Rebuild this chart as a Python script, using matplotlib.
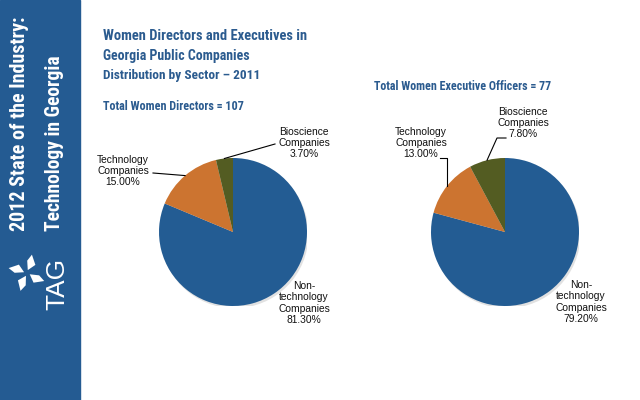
import numpy as np
import matplotlib
matplotlib.use("Agg")
import matplotlib.pyplot as plt
from matplotlib import font_manager as fm
from matplotlib.patches import Rectangle, Circle, Polygon

# --- data
sectors = ["Non-\ntechnology\nCompanies", "Technology\nCompanies", "Bioscience\nCompanies"]
directors_pct = [81.3, 15.0, 3.7]
officers_pct = [79.2, 13.0, 7.8]
colors = ["#235c93", "#cc7430", "#535c22"]

title_lines = ["Women Directors and Executives in",
               "Georgia Public Companies",
               "Distribution by Sector \u2013 2011"]
left_total = "Total Women Directors = 107"
right_total = "Total Women Executive Officers = 77"
side_lines = ["2012 State of the Industry:", "Technology in Georgia"]

W, H = 640, 400
names = {f.name for f in fm.fontManager.ttflist}
narrow = "Liberation Sans"
for cand in ["Liberation Sans Narrow", "Roboto Condensed", "Open Sans Condensed"]:
    if cand in names:
        narrow = cand
        break
body = "Liberation Sans"
blue_txt = "#2b5b8f"
side_blue = "#245b92"

fig = plt.figure(figsize=(6.4, 4), dpi=100)
fig.patch.set_facecolor("white")
renderer = fig.canvas.get_renderer()

# background / sidebar
bg = fig.add_axes([0, 0, 1, 1], zorder=0)
bg.set_xlim(0, W)
bg.set_ylim(H, 0)
bg.axis("off")
bg.add_patch(Rectangle((0, 0), 80, H, color=side_blue))

# overlay axes in pixel coords (y down)
ov = fig.add_axes([0, 0, 1, 1], zorder=5)
ov.set_xlim(0, W)
ov.set_ylim(H, 0)
ov.axis("off")
ov.patch.set_visible(False)


def fit(t, target, vertical=False):
    # scale the font so the text spans the target length in pixels
    bb = t.get_window_extent(renderer)
    cur = bb.height if vertical else bb.width
    t.set_fontsize(t.get_fontsize() * target / cur)
    return t


t = ov.text(20, 231, side_lines[0], rotation=90, ha="center", va="bottom",
            color="white", fontsize=12, fontweight="bold", family=narrow)
fit(t, 214, vertical=True)
t = ov.text(55, 231, side_lines[1], rotation=90, ha="center", va="bottom",
            color="white", fontsize=12, fontweight="bold", family=narrow)
fit(t, 176, vertical=True)

# TAG logo (rough pinwheel flower)
lc = np.array([27.0, 273.0])
for ang in [75, 165, 250, 335]:
    a = np.deg2rad(ang)
    d = np.array([np.cos(a), -np.sin(a)])
    n = np.array([-d[1], d[0]])
    tip = lc + d * 19
    base = lc + d * 3
    side1 = lc + d * 10 + n * 6
    side2 = lc + d * 12 - n * 3
    ov.add_patch(Polygon([base, side1, tip, side2], closed=True, color="white", lw=0))
ov.add_patch(Circle(lc, 2.5, color=side_blue, lw=0, zorder=6))
t = ov.text(57, 284, "TAG", rotation=90, ha="center", va="center", color="white",
            fontsize=15, family=body)
fit(t, 52, vertical=True)

# titles
for y, s, w in [(36, title_lines[0], 204), (56, title_lines[1], 146),
                (75, title_lines[2], 158)]:
    t = ov.text(103, y, s, ha="left", va="center", color=blue_txt,
                fontsize=10, fontweight="bold", family=narrow)
    fit(t, w)
t = ov.text(103, 106, left_total, ha="left", va="center", color=blue_txt,
            fontsize=9, fontweight="bold", family=narrow)
fit(t, 142)
t = ov.text(374, 87, right_total, ha="left", va="center", color=blue_txt,
            fontsize=9, fontweight="bold", family=narrow)
fit(t, 178)


def draw_pie(vals, cx, cy, r):
    ax = fig.add_axes([(cx - r) / W, 1 - (cy + r) / H, 2 * r / W, 2 * r / H], zorder=2)
    # soft shadow
    ax.add_patch(Circle((0.02, -0.03), 1.0, color="#c4c4c4", alpha=0.5, lw=0))
    wedges, _ = ax.pie(vals, colors=colors, startangle=90, counterclock=False,
                       radius=1, wedgeprops=dict(linewidth=0))
    ax.set_xlim(-1, 1)
    ax.set_ylim(-1, 1)
    ax.axis("off")
    pts = []
    for w in wedges:
        m = np.deg2rad((w.theta1 + w.theta2) / 2)
        pts.append((cx + r * np.cos(m), cy - r * np.sin(m)))
    return pts


def label(x, y, name, pct):
    ov.text(x, y, f"{name}\n{pct:.2f}%", ha="center", va="center",
            fontsize=7.4, family=body, color="#111111", linespacing=1.18)


rr = 74
pl = draw_pie(directors_pct, 233, 232, rr)
pr = draw_pie(officers_pct, 505, 232, rr)

# left pie labels
label(304, 303, sectors[0], directors_pct[0])
label(123, 171, sectors[1], directors_pct[1])
ov.plot([153, pl[1][0]], [173, pl[1][1]], color="black", lw=0.8)
label(304, 143, sectors[2], directors_pct[2])
ov.plot([275, pl[2][0]], [144, pl[2][1]], color="black", lw=0.8)

# right pie labels
label(581, 302, sectors[0], officers_pct[0])
label(421, 143, sectors[1], officers_pct[1])
ov.plot([440, pr[1][0], pr[1][0]], [158, 158, pr[1][1]], color="black", lw=0.8)
label(523, 123, sectors[2], officers_pct[2])
ov.plot([506, 497, pr[2][0]], [138, 138, pr[2][1]], color="black", lw=0.8)

fig.savefig("out.png", dpi=100)
